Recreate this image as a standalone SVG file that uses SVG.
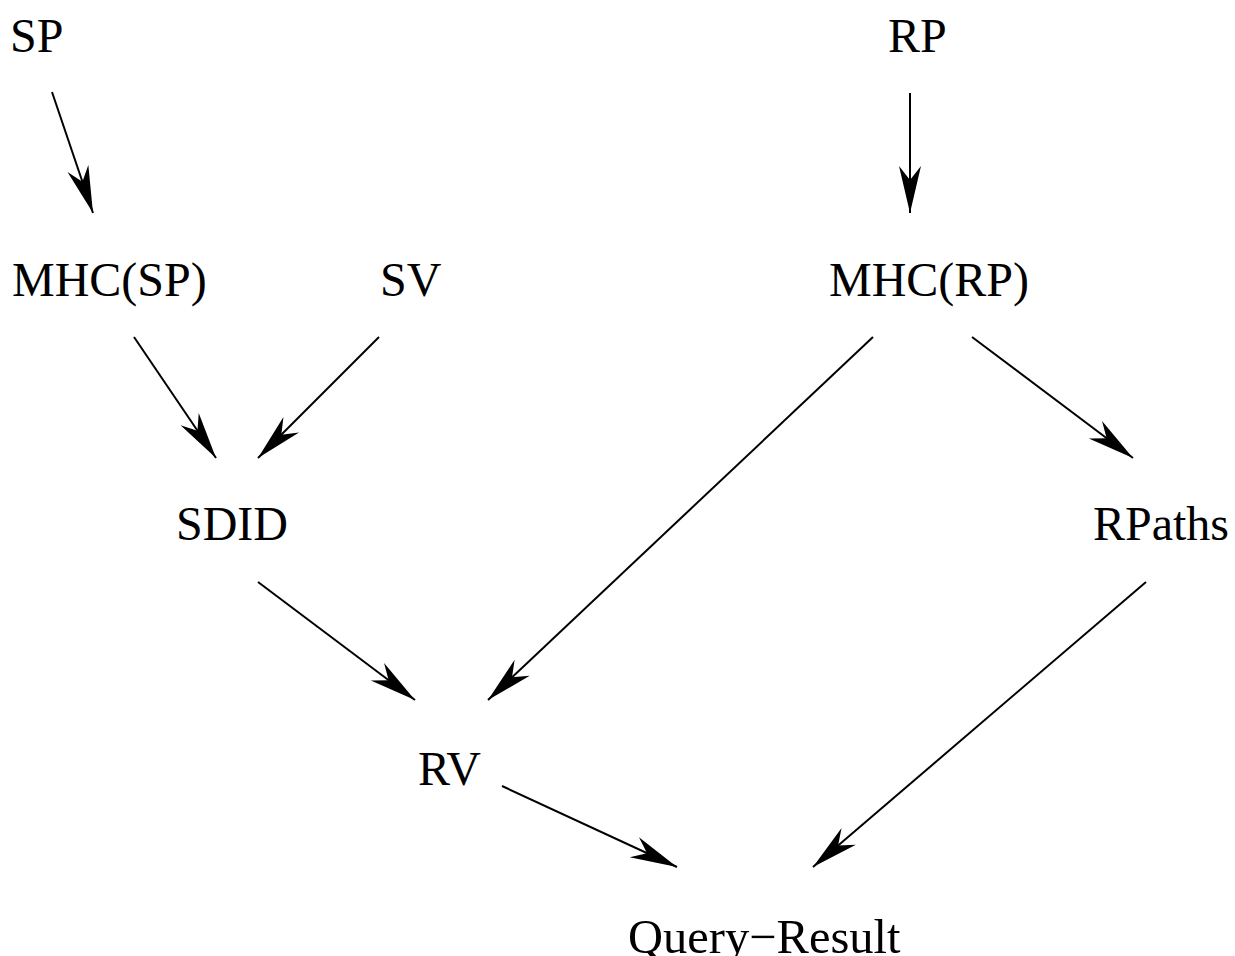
<svg xmlns="http://www.w3.org/2000/svg" width="1235" height="956" viewBox="0 0 1235 956">
  <style>
    .lbl { font-family: "Liberation Serif", "Times New Roman", serif; font-size: 48px; fill: #000; }
    .edge { stroke: #000; stroke-width: 2; fill: none; marker-end: url(#arrow); }
  </style>
  <defs>
    <marker id="arrow" markerUnits="userSpaceOnUse" markerWidth="60" markerHeight="30" refX="0" refY="0" viewBox="-50 -15 55 30" orient="auto" overflow="visible">
      <path d="M0,0 L-47,-11 L-33,0 L-47,11 Z" fill="#000"/>
    </marker>
  </defs>
  <rect width="1235" height="956" fill="#fff"/>

  <g id="connectors">
    <line class="edge" x1="52" y1="92" x2="93" y2="213"/>
    <line class="edge" x1="910" y1="93" x2="910" y2="213"/>
    <line class="edge" x1="134" y1="337" x2="216" y2="458"/>
    <line class="edge" x1="379" y1="337" x2="258" y2="458"/>
    <line class="edge" x1="873" y1="337" x2="488" y2="700"/>
    <line class="edge" x1="972" y1="337" x2="1133" y2="458"/>
    <line class="edge" x1="258" y1="582" x2="415" y2="700"/>
    <line class="edge" x1="502" y1="786" x2="677" y2="867"/>
    <line class="edge" x1="1146" y1="582" x2="813" y2="867"/>
  </g>

  <g id="node-sp"><text class="lbl" x="10" y="52">SP</text></g>
  <g id="node-rp"><text class="lbl" x="888" y="52">RP</text></g>
  <g id="node-mhc-sp"><text class="lbl" x="12" y="296">MHC(SP)</text></g>
  <g id="node-sv"><text class="lbl" x="380" y="296">SV</text></g>
  <g id="node-mhc-rp"><text class="lbl" x="829" y="296">MHC(RP)</text></g>
  <g id="node-sdid"><text class="lbl" x="176" y="540">SDID</text></g>
  <g id="node-rpaths"><text class="lbl" x="1093" y="540">RPaths</text></g>
  <g id="node-rv"><text class="lbl" x="418" y="785">RV</text></g>
  <g id="node-query-result"><text class="lbl" x="628" y="953" style="font-size:48.5px">Query−Result</text></g>
</svg>
